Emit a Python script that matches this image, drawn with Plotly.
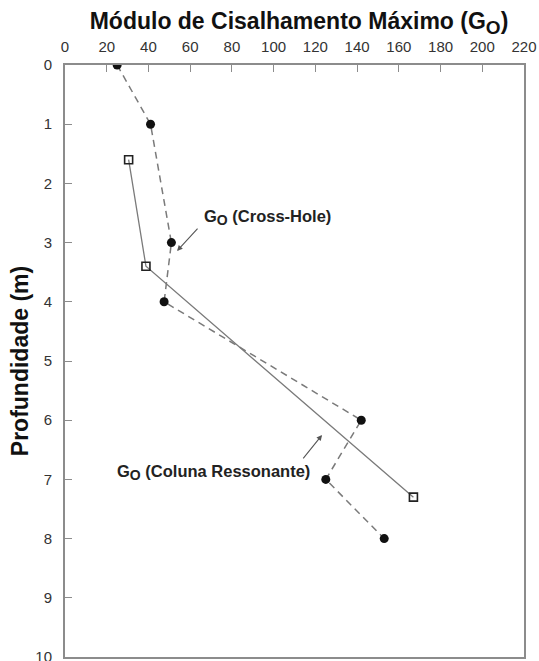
import plotly.graph_objects as go

# Cross-hole test: depth (m) and maximum shear modulus
depth_cross_hole = [0, 1, 3, 4, 6, 7, 8]
go_cross_hole = [25, 41, 51, 47.5, 142, 125, 153]

# Resonant column test: depth (m) and maximum shear modulus
depth_res_col = [1.6, 3.4, 7.3]
go_res_col = [30.5, 38.8, 167]

x_ticks = list(range(0, 221, 20))
y_ticks = list(range(0, 11, 1))

LINE_GREY = "#7a7a7a"
AXIS_GREY = "#8c8c8c"
TEXT_DARK = "#222222"
FONT = "Liberation Sans, Arial, sans-serif"

fig = go.Figure()

fig.add_trace(go.Scatter(
    x=go_cross_hole, y=depth_cross_hole,
    mode="lines+markers",
    line=dict(color=LINE_GREY, width=1.5, dash="7px,5px"),
    marker=dict(symbol="circle", size=9, color="#111111"),
    showlegend=False,
))

fig.add_trace(go.Scatter(
    x=go_res_col, y=depth_res_col,
    mode="lines+markers",
    line=dict(color=LINE_GREY, width=1.3),
    marker=dict(symbol="square-open", size=8, color="#222222",
                line=dict(width=1.6, color="#222222")),
    showlegend=False,
))

label_font = dict(family=FONT, size=16.5, color=TEXT_DARK)
sub_o = "<sub><span style='font-size:14px'>O</span></sub>"

annotations = [
    # labels
    dict(x=65.7, y=2.57, xref="x", yref="y", xanchor="left", yanchor="middle",
         text=f"<b>G{sub_o} (Cross-Hole)</b>", showarrow=False, font=label_font),
    dict(x=24, y=6.88, xref="x", yref="y", xanchor="left", yanchor="middle",
         text=f"<b>G{sub_o} (Coluna Ressonante)</b>", showarrow=False, font=label_font),
    # arrows
    dict(x=53.7, y=3.14, ax=64.2, ay=2.74, xref="x", yref="y", axref="x", ayref="y",
         text="", showarrow=True, arrowhead=2, arrowsize=1, arrowwidth=1.1,
         arrowcolor="#555555"),
    dict(x=123.2, y=6.25, ax=113.6, ay=6.67, xref="x", yref="y", axref="x", ayref="y",
         text="", showarrow=True, arrowhead=2, arrowsize=1, arrowwidth=1.1,
         arrowcolor="#555555"),
]

fig.update_layout(
    width=539, height=661,
    margin=dict(l=65, r=15, t=65, b=4, autoexpand=False),
    paper_bgcolor="white", plot_bgcolor="white",
    font=dict(family=FONT, color=TEXT_DARK),
    title=dict(
        text="<b>Módulo de Cisalhamento Máximo (G<sub><span style='font-size:19px'>O</span></sub>)</b>",
        x=299 / 539, xref="container", xanchor="center",
        y=1 - 21 / 661, yref="container", yanchor="middle",
        font=dict(family=FONT, size=23, color="#111111"),
    ),
    annotations=annotations,
)

fig.update_xaxes(
    side="top", range=[0, 220], tickvals=x_ticks,
    ticks="inside", ticklen=7, tickwidth=1.3, tickcolor=AXIS_GREY,
    showline=True, linecolor=AXIS_GREY, linewidth=2, mirror=True,
    showgrid=False, zeroline=False, automargin=False,
    tickfont=dict(family=FONT, size=15, color="#333333"),
    ticklabelstandoff=5,
)

fig.update_yaxes(
    range=[10, 0], tickvals=y_ticks,
    ticks="inside", ticklen=7, tickwidth=1.3, tickcolor=AXIS_GREY,
    showline=True, linecolor=AXIS_GREY, linewidth=2, mirror=True,
    showgrid=False, zeroline=False, automargin=False,
    tickfont=dict(family=FONT, size=15, color="#333333"),
    ticklabelstandoff=8, ticklabeloverflow="allow",
    title=dict(text="<b>Profundidade (m)</b>", standoff=0,
               font=dict(family=FONT, size=23, color="#111111")),
)

fig.write_html("out.html")
